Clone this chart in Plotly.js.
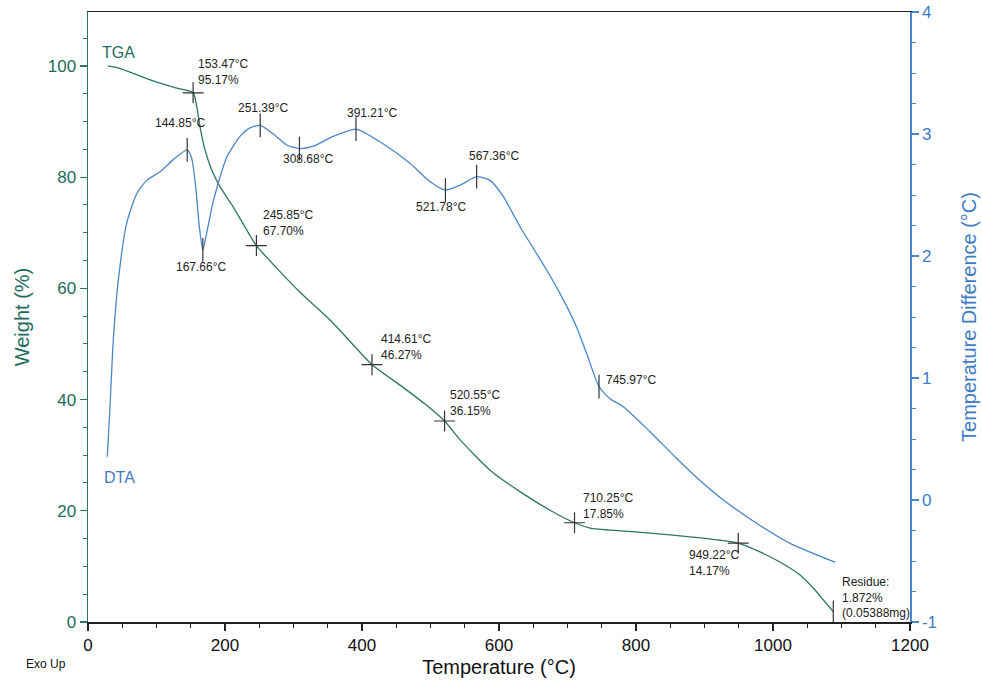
<!DOCTYPE html>
<html>
<head>
<meta charset="utf-8">
<script src="https://cdn.plot.ly/plotly-3.0.1.min.js"></script>
<style>html,body{margin:0;padding:0;background:#fff;}#chart{width:982px;height:684px;}</style>
</head>
<body>
<div id="chart"></div>
<script>
// TGA curve: temperature (°C) vs weight (%)
const tgaTemp = [29, 45, 61, 80, 105, 130, 153.47, 158.7, 163.5, 170.8, 180.6, 192.7, 211.7, 231.7, 245.85, 280.3, 309.5, 353.3, 389.8, 414.61, 455.5, 492, 520.55, 543, 587, 631, 674.5, 710.25, 733, 777, 820, 879, 922.6, 949.22, 981, 1010, 1039, 1061, 1076, 1088];
const tgaWeight = [100, 99.6, 98.9, 98.0, 96.9, 96.0, 95.17, 92.7, 89.1, 84.9, 81.3, 78.3, 74.7, 70.5, 67.70, 63.0, 59.3, 54.3, 49.5, 46.27, 42.6, 39.2, 36.15, 32.8, 27.3, 23.4, 20.1, 17.85, 16.9, 16.4, 16.0, 15.3, 14.7, 14.17, 12.6, 10.8, 8.5, 5.8, 3.6, 1.872];

// DTA curve: temperature (°C) vs temperature difference (°C)
const dtaTemp = [28.2, 32.1, 36.9, 44.2, 56.5, 71.1, 85.7, 105.1, 124.5, 144.85, 151.4, 157.7, 162.5, 167.66, 173.3, 182.9, 202.5, 221.9, 236.5, 251.39, 270.5, 290, 308.68, 329, 358, 391.21, 430.7, 470, 499, 521.78, 543, 567.36, 587, 606, 630.7, 669.6, 694, 713, 728, 745.97, 762, 781.5, 820.4, 859.4, 893.4, 927.5, 976, 1025, 1090.5];
const dtaDiff = [0.355, 0.765, 1.31, 1.80, 2.27, 2.51, 2.62, 2.69, 2.79, 2.87, 2.80, 2.54, 2.24, 2.05, 2.19, 2.45, 2.81, 2.98, 3.05, 3.07, 3.00, 2.91, 2.88, 2.90, 2.98, 3.04, 2.92, 2.76, 2.61, 2.54, 2.58, 2.65, 2.62, 2.49, 2.24, 1.885, 1.64, 1.42, 1.20, 0.93, 0.83, 0.765, 0.56, 0.34, 0.16, 0.00, -0.19, -0.355, -0.51];

// Marked TGA points
const tgaMarkTemp = [153.47, 245.85, 414.61, 520.55, 710.25, 949.22];
const tgaMarkWeight = [95.17, 67.70, 46.27, 36.15, 17.85, 14.17];
const residueTemp = [1088];
const residueWeight = [1.872];

// Marked DTA peaks
const dtaMarkTemp = [144.85, 167.66, 251.39, 308.68, 391.21, 521.78, 567.36, 745.97];
const dtaMarkDiff = [2.87, 2.05, 3.07, 2.88, 3.04, 2.54, 2.65, 0.93];

// Axis ticks
const xTicks = [0, 200, 400, 600, 800, 1000, 1200];
const yTicks = [0, 20, 40, 60, 80, 100];
const y2Ticks = [-1, 0, 1, 2, 3, 4];

const teal = '#236b5d';
const tealLine = '#2e7566';
const blue = '#3f7cc4';
const blueLine = '#4a86c8';
const markColor = '#333333';
const FONT = 'Liberation Sans, Arial, sans-serif';

const traces = [
  {x: tgaTemp, y: tgaWeight, type: 'scatter', mode: 'lines', line: {color: tealLine, width: 1.3, shape: 'spline', smoothing: 0.6}, yaxis: 'y', hoverinfo: 'skip'},
  {x: dtaTemp, y: dtaDiff, type: 'scatter', mode: 'lines', line: {color: blueLine, width: 1.3, shape: 'spline', smoothing: 0.6}, yaxis: 'y2', hoverinfo: 'skip'},
  {x: tgaMarkTemp, y: tgaMarkWeight, type: 'scatter', mode: 'markers', marker: {symbol: 'cross-thin', size: 15, line: {color: markColor, width: 1.2}}, yaxis: 'y'},
  {x: residueTemp, y: residueWeight, type: 'scatter', mode: 'markers', marker: {symbol: 'line-ns', size: 16, line: {color: markColor, width: 1.2}}, yaxis: 'y'},
  {x: dtaMarkTemp, y: dtaMarkDiff, type: 'scatter', mode: 'markers', marker: {symbol: 'line-ns', size: 17, line: {color: markColor, width: 1.2}}, yaxis: 'y2'}
];

function ann(x, y, text) {
  return {x: x, y: y, xref: 'x', yref: 'y', text: text, showarrow: false, xanchor: 'left', yanchor: 'top', align: 'left', font: {family: FONT, size: 12, color: '#222'}};
}

const annotations = [
  ann(158, 101.9, '153.47°C<br>95.17%'),
  ann(95, 91.3, '144.85°C'),
  ann(216.5, 94.1, '251.39°C'),
  ann(282, 84.8, '308.68°C'),
  ann(375.6, 93.1, '391.21°C'),
  ann(554, 85.5, '567.36°C'),
  ann(476, 76.3, '521.78°C'),
  ann(126, 65.5, '167.66°C'),
  ann(253, 74.9, '245.85°C<br>67.70%'),
  ann(425, 52.6, '414.61°C<br>46.27%'),
  ann(526, 42.5, '520.55°C<br>36.15%'),
  ann(754, 45.2, '745.97°C'),
  ann(719, 24.0, '710.25°C<br>17.85%'),
  ann(875, 13.7, '949.22°C<br>14.17%'),
  ann(1098, 8.9, 'Residue:<br>1.872%<br>(0.05388mg)'),
  {x: 17, y: 102.5, xref: 'x', yref: 'y', text: 'TGA', showarrow: false, xanchor: 'left', yanchor: 'middle', font: {family: FONT, size: 16, color: teal}},
  {x: 21, y: 25.9, xref: 'x', yref: 'y', text: 'DTA', showarrow: false, xanchor: 'left', yanchor: 'middle', font: {family: FONT, size: 16, color: blue}},
  {x: -0.078, y: -0.069, xref: 'paper', yref: 'paper', text: 'Exo Up', showarrow: false, xanchor: 'left', yanchor: 'middle', font: {family: FONT, size: 12, color: '#111'}}
];

const layout = {
  width: 982, height: 684,
  margin: {l: 88, r: 72, t: 12, b: 62, pad: 0},
  paper_bgcolor: '#fff', plot_bgcolor: '#fff',
  showlegend: false,
  font: {family: FONT},
  xaxis: {
    range: [0, 1200], tickvals: xTicks, ticktext: xTicks.map(String),
    showgrid: false, zeroline: false, showline: true, linecolor: '#222', linewidth: 1.5, mirror: true,
    ticks: 'outside', ticklen: 7, tickwidth: 1.2, tickcolor: '#222',
    minor: {dtick: 50, ticks: 'outside', ticklen: 4, tickcolor: '#222', tickwidth: 1, showgrid: false},
    tickfont: {family: FONT, size: 17, color: '#111'},
    title: {text: 'Temperature (°C)', font: {family: FONT, size: 20, color: '#111'}, standoff: 6},
    automargin: false
  },
  yaxis: {
    range: [0, 109.7], tickvals: yTicks, ticktext: yTicks.map(String),
    showgrid: false, zeroline: false, showline: true, linecolor: tealLine, linewidth: 1.5,
    ticks: 'outside', ticklen: 7, tickwidth: 1.2, tickcolor: tealLine,
    minor: {dtick: 5, ticks: 'outside', ticklen: 4, tickcolor: tealLine, tickwidth: 1, showgrid: false},
    tickfont: {family: FONT, size: 17, color: teal},
    title: {text: 'Weight (%)', font: {family: FONT, size: 20, color: teal}, standoff: 12},
    automargin: false
  },
  yaxis2: {
    range: [-1, 4], tickvals: y2Ticks, ticktext: y2Ticks.map(String),
    overlaying: 'y', side: 'right',
    showgrid: false, zeroline: false, showline: true, linecolor: blueLine, linewidth: 1.5,
    ticks: 'outside', ticklen: 7, tickwidth: 1.2, tickcolor: blueLine,
    minor: {dtick: 0.25, ticks: 'outside', ticklen: 4, tickcolor: blueLine, tickwidth: 1, showgrid: false},
    tickfont: {family: FONT, size: 17, color: blue},
    title: {text: 'Temperature Difference (°C)', font: {family: FONT, size: 20, color: blue}, standoff: 26},
    automargin: false
  },
  annotations: annotations
};

Plotly.newPlot('chart', traces, layout, {displayModeBar: false, staticPlot: true});
</script>
</body>
</html>
